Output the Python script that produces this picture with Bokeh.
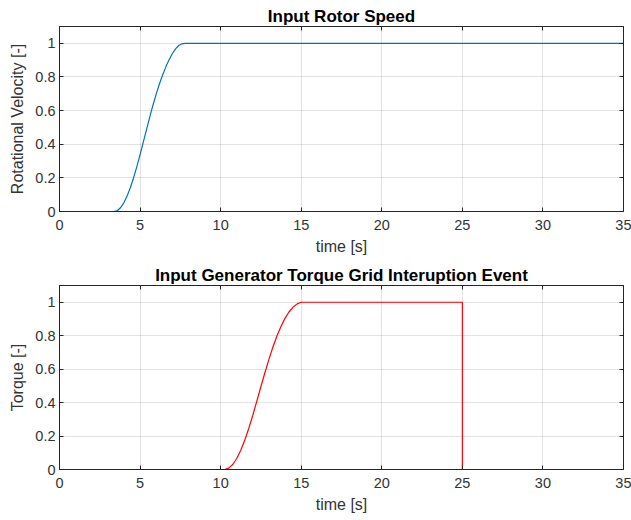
from bokeh.plotting import figure
from bokeh.layouts import column
from bokeh.models import LinearAxis, FixedTicker, Range1d, CustomLabelingPolicy
from bokeh.embed import file_html
from bokeh.resources import INLINE

# ---- data ----
speed_t = [0, 3.4, 3.6, 3.8, 4.0, 4.2, 4.4, 4.6, 4.8, 5.0, 5.2, 5.4, 5.6, 5.8,
           6.0, 6.2, 6.4, 6.6, 6.8, 7.0, 7.2, 7.4, 7.6, 7.8, 35]
speed_v = [0, 0, 0.006, 0.024, 0.053, 0.093, 0.143, 0.201, 0.267, 0.338, 0.412,
           0.487, 0.561, 0.632, 0.698, 0.758, 0.812, 0.86, 0.902, 0.938, 0.967,
           0.987, 0.997, 1.0, 1.0]

torque_t = [0, 10.25, 10.5, 10.75, 11.0, 11.25, 11.5, 11.75, 12.0, 12.25, 12.5,
            12.75, 13.0, 13.25, 13.5, 13.75, 14.0, 14.25, 14.5, 14.75, 15.0,
            25.0, 25.0, 35]
torque_v = [0, 0, 0.008, 0.03, 0.066, 0.115, 0.176, 0.247, 0.326, 0.41, 0.496,
            0.58, 0.66, 0.734, 0.8, 0.857, 0.905, 0.943, 0.971, 0.99, 1.0,
            1.0, 0.0, 0.0]

x_ticks = [0, 5, 10, 15, 20, 25, 30, 35]
x_tick_labels = ["0", "5", "10", "15", "20", "25", "30", "35"]
y_ticks = [0, 0.2, 0.4, 0.6, 0.8, 1.0]
y_tick_labels = ["0", "0.2", "0.4", "0.6", "0.8", "1"]

titles = ["Input Rotor Speed", "Input Generator Torque Grid Interuption Event"]
y_labels = ["Rotational Velocity [-]", "Torque [-]"]
x_label = "time [s]"

FONT = "Liberation Sans"
AXC = "#262626"
TXT = "#333333"

NO_LABELS = CustomLabelingPolicy(code="""
try { const n = indices.size; for (let i = 0; i < n; i++) { indices.unset(i); } } catch (e) {}
return indices;
""")


def style_axis(ax, ticks, labels, show_labels=True):
    ax.ticker = FixedTicker(ticks=ticks)
    ax.major_label_overrides = {t: l for t, l in zip(ticks, labels)}
    ax.major_tick_in = 4
    ax.major_tick_out = 0
    ax.minor_tick_in = 0
    ax.minor_tick_out = 0
    ax.axis_line_color = AXC
    ax.major_tick_line_color = AXC
    ax.axis_line_width = 1
    ax.major_label_text_font = FONT
    ax.major_label_text_font_size = "14.5px"
    ax.major_label_text_color = TXT
    ax.axis_label_text_font = FONT
    ax.axis_label_text_font_size = "16px"
    ax.axis_label_text_font_style = "normal"
    ax.axis_label_text_color = TXT
    if not show_labels:
        ax.major_label_policy = NO_LABELS
        ax.major_label_text_font_size = "0px"
        ax.major_label_standoff = 0


def make(title, ylab, xs, ys, color, height, top):
    p = figure(width=631, height=height, output_backend="svg",
               toolbar_location=None, x_range=Range1d(0, 35),
               y_range=Range1d(0, 1.1))
    p.min_border_left = 59
    p.min_border_right = 8
    p.min_border_top = top
    p.min_border_bottom = 51
    p.title.text = title
    p.title.align = "center"
    p.title.text_font = FONT
    p.title.text_font_size = "17px"
    p.title.text_font_style = "bold"
    p.title.text_color = "black"
    p.title.standoff = 2
    p.outline_line_color = AXC
    p.outline_line_width = 1

    style_axis(p.xaxis[0], x_ticks, x_tick_labels)
    style_axis(p.yaxis[0], y_ticks, y_tick_labels)
    p.xaxis[0].axis_label = x_label
    p.xaxis[0].axis_label_standoff = 5
    p.xaxis[0].major_label_standoff = 8
    p.yaxis[0].axis_label = ylab
    p.yaxis[0].axis_label_standoff = 6
    p.yaxis[0].major_label_standoff = 4

    ax_r = LinearAxis()
    style_axis(ax_r, y_ticks, y_tick_labels, show_labels=False)
    p.add_layout(ax_r, "right")
    ax_t = LinearAxis()
    style_axis(ax_t, x_ticks, x_tick_labels, show_labels=False)
    p.add_layout(ax_t, "above")

    p.xgrid.ticker = FixedTicker(ticks=x_ticks)
    p.ygrid.ticker = FixedTicker(ticks=y_ticks)
    for g in (p.xgrid[0], p.ygrid[0]):
        g.grid_line_color = "#262626"
        g.grid_line_alpha = 0.13
        g.grid_line_width = 1

    p.background_fill_color = "white"
    p.border_fill_color = "white"
    p.line(xs, ys, line_color=color, line_width=1.2)
    return p


p1 = make(titles[0], y_labels[0], speed_t, speed_v, "#0072BD", 262, 26)
p2 = make(titles[1], y_labels[1], torque_t, torque_v, "#FF0000", 258, 23)

layout = column(p1, p2, spacing=0)
open("out.html", "w").write(file_html(layout, INLINE))
